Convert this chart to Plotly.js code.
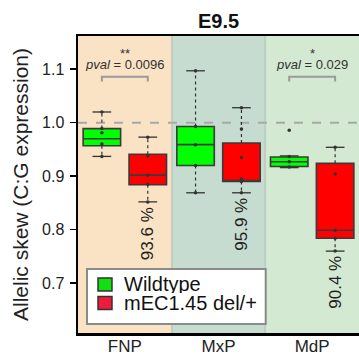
<!DOCTYPE html>
<html>
<head>
<meta charset="utf-8">
<script src="https://cdn.plot.ly/plotly-3.0.1.min.js"></script>
<style>html,body{margin:0;padding:0;background:#fff;}#chart{width:359px;height:360px;}</style>
</head>
<body>
<div id="chart"></div>
<script>
// ---- data ----
const categories = ["FNP", "MxP", "MdP"];
const groups = ["Wildtype", "mEC1.45 del/+"];

// Wildtype box stats
const wtQ1 = [0.957, 0.920, 0.918];
const wtMedian = [0.970, 0.959, 0.927];
const wtQ3 = [0.989, 0.993, 0.936];
const wtLower = [0.937, 0.869, 0.916];
const wtUpper = [1.020, 1.097, 0.938];
const wtPoints = [
  [1.020, 0.989, 0.981, 0.960, 0.937],
  [1.097, 0.993, 0.959, 0.920, 0.869],
  [0.986, 0.937, 0.927, 0.917]
];

// mEC1.45 del/+ box stats
const mutQ1 = [0.884, 0.890, 0.784];
const mutMedian = [0.902, 0.892, 0.799];
const mutQ3 = [0.941, 0.962, 0.924];
const mutLower = [0.852, 0.869, 0.760];
const mutUpper = [0.973, 1.028, 0.954];
const mutPoints = [
  [0.973, 0.938, 0.902, 0.885, 0.852],
  [1.028, 0.988, 0.935, 0.895, 0.890, 0.869],
  [0.954, 0.904, 0.799, 0.784, 0.760]
];

const pctLabels = ["93.6 %", "95.9 %", "90.4 %"];
const pvalLabels = ["0.0096", null, "0.029"];
const starLabels = ["**", "", "*"];
const yTicks = [0.7, 0.8, 0.9, 1.0, 1.1];

// ---- styling ----
const FONT = "Liberation Sans, Arial, Helvetica, sans-serif";
const bandColors = ["#FAE2C4", "#C6DCD0", "#D3E9D1"];
const boxFill = ["#00FF00", "#FF0000"];
const legendFill = ["#11E011", "#EE1C3A"];
const offsets = [-0.245, 0.245];
const capHalf = 0.1;

const stats = [
  {q1: wtQ1, med: wtMedian, q3: wtQ3, lo: wtLower, hi: wtUpper, pts: wtPoints},
  {q1: mutQ1, med: mutMedian, q3: mutQ3, lo: mutLower, hi: mutUpper, pts: mutPoints}
];

const traces = [];
stats.forEach((s, g) => {
  const xs = categories.map((c, i) => i + offsets[g]);
  const wx = [], wy = [], cx = [], cy = [];
  xs.forEach((x, i) => {
    wx.push(x, x, null, x, x, null);
    wy.push(s.q3[i], s.hi[i], null, s.q1[i], s.lo[i], null);
    cx.push(x - capHalf, x + capHalf, null, x - capHalf, x + capHalf, null);
    cy.push(s.hi[i], s.hi[i], null, s.lo[i], s.lo[i], null);
  });
  traces.push({type: "scatter", mode: "lines", x: wx, y: wy, showlegend: false, hoverinfo: "skip",
    line: {color: "#333", width: 1.2, dash: "dot"}});
  traces.push({type: "scatter", mode: "lines", x: cx, y: cy, showlegend: false, hoverinfo: "skip",
    line: {color: "#333", width: 1.3}});
  traces.push({type: "box", x: xs, q1: s.q1, median: s.med, q3: s.q3,
    lowerfence: s.q1, upperfence: s.q3, width: 0.4, whiskerwidth: 0,
    fillcolor: boxFill[g], line: {color: "#3a3a3a", width: 1.6},
    boxpoints: false, showlegend: false, hoverinfo: "skip", name: groups[g]});
});
stats.forEach((s, g) => {
  const px = [], py = [];
  s.pts.forEach((arr, i) => arr.forEach(v => { px.push(i + offsets[g]); py.push(v); }));
  traces.push({type: "scatter", mode: "markers", x: px, y: py, showlegend: false, hoverinfo: "skip",
    marker: {color: "#333", size: 3.5}});
});

const shapes = [];
categories.forEach((c, i) => {
  shapes.push({type: "rect", xref: "x", yref: "paper", x0: i - 0.5, x1: i + 0.5, y0: 0, y1: 1,
    fillcolor: bandColors[i], line: {width: 0}, layer: "below"});
});
[0.5, 1.5].forEach(b => shapes.push({type: "line", xref: "x", yref: "paper", x0: b, x1: b, y0: 0, y1: 1,
  line: {color: "rgba(0,0,0,0.12)", width: 1.5}, layer: "below"}));
shapes.push({type: "line", xref: "paper", yref: "y", x0: 0, x1: 1, y0: 1.0, y1: 1.0,
  line: {color: "#A8A8A8", width: 2, dash: "dash"}, layer: "below"});

const annotations = [];
categories.forEach((c, i) => {
  annotations.push({x: i + offsets[1], y: mutLower[i], xref: "x", yref: "y", text: pctLabels[i],
    textangle: -90, showarrow: false, xanchor: "center", yanchor: "top", yshift: -3,
    font: {family: FONT, size: 17, color: "#222"}});
  if (pvalLabels[i]) {
    const xa = i + offsets[0], xb = i + offsets[1];
    shapes.push({type: "path", xref: "x", yref: "y",
      path: `M ${xa} 1.077 L ${xa} 1.086 L ${xb} 1.086 L ${xb} 1.077`,
      line: {color: "#9A9A9A", width: 2}});
    annotations.push({x: i, y: 1.110, xref: "x", yref: "y", showarrow: false, borderpad: 0,
      height: 14,
      text: "<i>pval</i> = " + pvalLabels[i], font: {family: FONT, size: 13, color: "#333"}});
    annotations.push({x: i, y: 1.1335, xref: "x", yref: "y", showarrow: false, borderpad: 0,
      height: 8, valign: "top", yshift: 1,
      text: starLabels[i], font: {family: FONT, size: 13, color: "#333"}});
  }
});

// custom legend box
shapes.push({type: "rect", xref: "paper", yref: "paper", x0: 0.032, x1: 0.668, y0: 0.030, y1: 0.2155,
  fillcolor: "#FFFFFF", line: {color: "#8A8A8A", width: 2}, layer: "above"});
const legY = [0.1633, 0.101];
groups.forEach((g, k) => {
  shapes.push({type: "rect", xref: "paper", yref: "paper", x0: 0.0712, x1: 0.121,
    y0: legY[k] - 0.022, y1: legY[k] + 0.022, fillcolor: legendFill[k],
    line: {color: "#333", width: 1.5}, layer: "above"});
  annotations.push({x: 0.160, y: legY[k], xref: "paper", yref: "paper", text: g, showarrow: false,
    xanchor: "left", yanchor: "middle", borderpad: 0, height: 18,
    font: {family: FONT, size: 20, color: "#111"}});
});

const layout = {
  width: 359, height: 360,
  margin: {l: 78, r: 0, t: 36, b: 27},
  paper_bgcolor: "#FFFFFF", plot_bgcolor: "#FFFFFF",
  font: {family: FONT, color: "#222"},
  title: {text: "<b>E9.5</b>", font: {family: FONT, size: 20, color: "#111"},
    x: 0.5, xref: "paper", y: 1 - 21 / 360, yref: "container", yanchor: "middle"},
  showlegend: false,
  xaxis: {range: [-0.5, 2.5], tickvals: categories.map((c, i) => i), ticktext: categories,
    showline: true, linecolor: "#000", linewidth: 2.5, mirror: true, ticks: "",
    showgrid: false, zeroline: false, tickfont: {family: FONT, size: 17, color: "#222"},
    ticklabelstandoff: -4, fixedrange: true},
  yaxis: {range: [0.607, 1.162], tickvals: yTicks, ticktext: yTicks.map(v => v.toFixed(1)),
    showline: true, linecolor: "#000", linewidth: 2.5, mirror: false,
    ticks: "outside", ticklen: 6, tickwidth: 1.5, tickcolor: "#000",
    showgrid: false, zeroline: false, tickfont: {family: FONT, size: 16, color: "#222"},
    ticklabelstandoff: 2,
    title: {text: "Allelic skew (C:G expression)", font: {family: FONT, size: 21, color: "#222"}, standoff: 8},
    fixedrange: true},
  shapes: shapes,
  annotations: annotations
};

Plotly.newPlot("chart", traces, layout, {displayModeBar: false, staticPlot: true});
</script>
</body>
</html>
